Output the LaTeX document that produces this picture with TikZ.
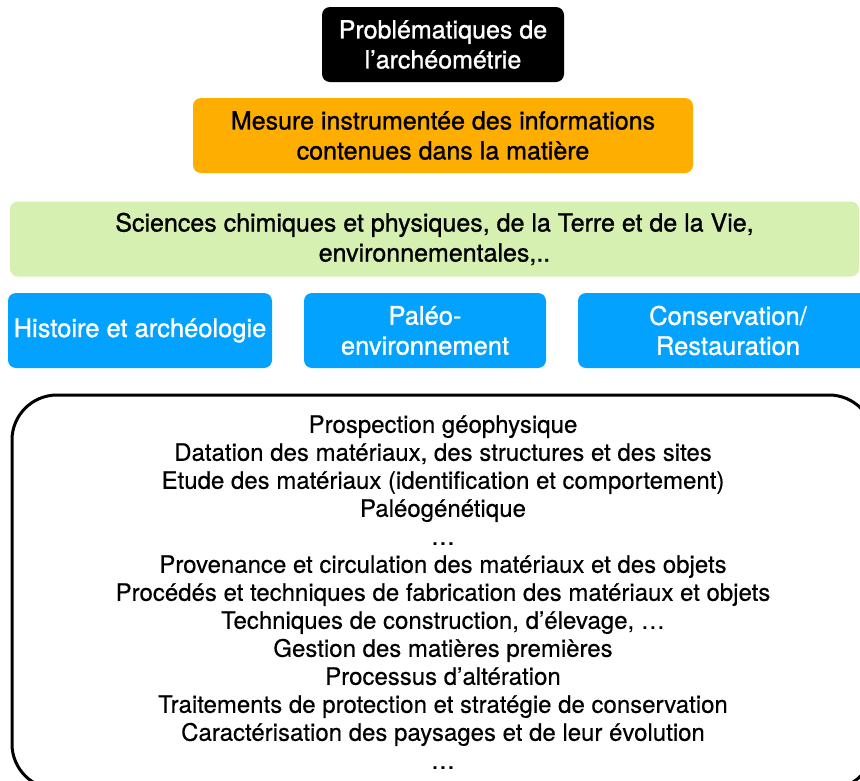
\documentclass[tikz,border=0pt]{standalone}
\usepackage{fontspec}
\setmainfont{TeX Gyre Heros}
\newfontfamily\mediumfont[FakeBold=1.1]{TeX Gyre Heros}
\newfontfamily\listfont[FakeBold=0.4]{TeX Gyre Heros}
\usepackage{tikz}
\usetikzlibrary{calc,shapes}
\definecolor{mesureorange}{HTML}{FDAE00}
\definecolor{sciencegreen}{HTML}{D5F0B0}
\definecolor{disciplineblue}{HTML}{03A2FF}
\tikzstyle{blackbox}=[rectangle,rounded corners=8pt,fill=black,text=white,
                      font=\fontsize{25}{30}\mediumfont,inner sep=0pt,minimum height=75pt]
\tikzstyle{orangebox}=[blackbox,fill=mesureorange,text=black]
\tikzstyle{greenbox}=[blackbox,fill=sciencegreen,text=black]
\tikzstyle{bluebox}=[blackbox,fill=disciplineblue,text=white,font=\fontsize{25.5}{30}\mediumfont]
\tikzstyle{listbox}=[rectangle,draw=black,line width=3pt,rounded corners=45pt,
                     font=\fontsize{24}{28}\listfont,align=center,
                     minimum width=862pt,minimum height=394pt]
\newcommand\nodelabel[3][30em]{\parbox{#1}{\centering #2 \\ #3 }}

\begin{document}
\begin{tikzpicture}[x=1pt,y=-1pt]
    	\useasboundingbox (0,0) rectangle (860,780);
    	\clip (0,0) rectangle (860,780);
    	\node [blackbox,minimum width=242pt] (Problematiques) at (443,44.5) {
    		\nodelabel[242pt]{Problématiques de}{l’archéométrie}
    	};
    	\node [orangebox,minimum width=500pt] (Mesure) at (443,135.5) {
    		\nodelabel[500pt]{Mesure instrumentée des informations}{contenues dans la matière}
    	};
    	\node [greenbox,minimum width=849pt] (Sciences) at (434.5,239) {
    		\nodelabel[849pt]{Sciences chimiques et physiques, de la Terre et de la Vie,}{environnementales,..}
    	};
    	\node [bluebox,minimum width=264pt] (Histoire) at (140,330.5) {Histoire et archéologie};
    	\node [bluebox,minimum width=242pt] (Paleo) at (425,330.5) {
    		\nodelabel[242pt]{Paléo-}{environnement}
    	};
    	\node [bluebox,minimum width=300pt] (Conservation) at (728,330.5) {
    		\nodelabel[300pt]{Conservation/}{Restauration}
    	};
    	\node [listbox] (Etudes) at (443,592) {
    		Prospection géophysique\\
    		Datation des matériaux, des structures et des sites\\
    		Etude des matériaux (identification et comportement)\\
    		Paléogénétique\\
    		…\\
    		Provenance et circulation des matériaux et des objets\\
    		Procédés et techniques de fabrication des matériaux et objets\\
    		Techniques de construction, d’élevage, …\\
    		Gestion des matières premières\\
    		Processus d’altération\\
    		Traitements de protection et stratégie de conservation\\
    		Caractérisation des paysages et de leur évolution\\
    		…
    	};
    \end{tikzpicture}
\end{document}
